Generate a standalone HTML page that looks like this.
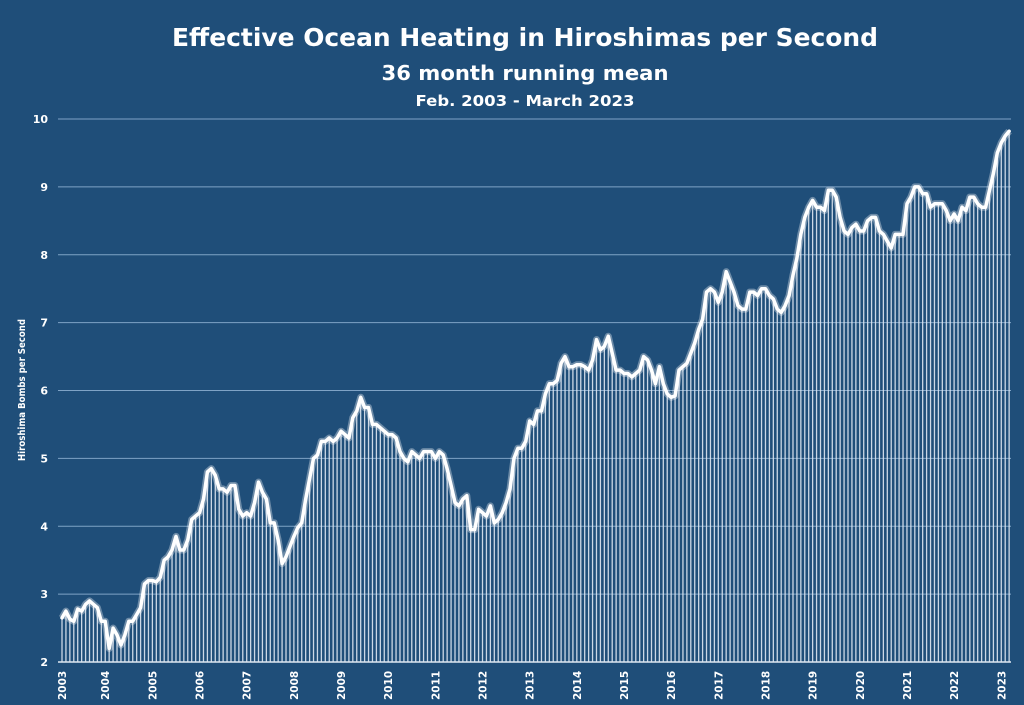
<!DOCTYPE html>
<html><head><meta charset="utf-8"><style>
html,body{margin:0;padding:0;background:#1f4e79;}
svg{display:block;}
text{font-family:"DejaVu Sans","Liberation Sans",sans-serif;fill:#fff;font-weight:bold;}
</style></head><body>
<svg id="chart" width="1024" height="705" viewBox="0 0 1024 705">
<rect width="1024" height="705" fill="#1f4e79"/>
<text x="525" y="46" text-anchor="middle" font-size="25" textLength="706" lengthAdjust="spacingAndGlyphs">Effective Ocean Heating in Hiroshimas per Second</text>
<text x="525" y="80" text-anchor="middle" font-size="20" textLength="287" lengthAdjust="spacingAndGlyphs">36 month running mean</text>
<text x="525" y="106" text-anchor="middle" font-size="15" textLength="219" lengthAdjust="spacingAndGlyphs">Feb. 2003 - March 2023</text>
<text transform="translate(25,390) rotate(-90)" text-anchor="middle" font-size="10" textLength="142" lengthAdjust="spacingAndGlyphs">Hiroshima  Bombs per Second</text>
<g id="grid"></g><g id="bars"></g><g id="line"></g><g id="ticks"></g>
</svg>
<script>
const yTicks=[2,3,4,5,6,7,8,9,10];
const years=[2003,2004,2005,2006,2007,2008,2009,2010,2011,2012,2013,2014,2015,2016,2017,2018,2019,2020,2021,2022,2023];
const v2003=[2.65,2.75,2.63,2.6,2.78,2.75,2.85,2.9,2.85,2.8,2.6];
const v2004=[2.6,2.2,2.5,2.4,2.25,2.4,2.6,2.6,2.7,2.8,3.15,3.2];
const v2005=[3.2,3.18,3.25,3.5,3.55,3.65,3.85,3.65,3.65,3.8,4.1,4.15];
const v2006=[4.2,4.4,4.8,4.85,4.75,4.55,4.55,4.5,4.6,4.6,4.25,4.15];
const v2007=[4.2,4.15,4.35,4.65,4.5,4.4,4.05,4.05,3.8,3.45,3.55,3.7];
const v2008=[3.85,3.98,4.05,4.4,4.7,5.0,5.05,5.25,5.25,5.3,5.25,5.3];
const v2009=[5.4,5.35,5.3,5.6,5.7,5.9,5.75,5.75,5.5,5.5,5.45,5.4];
const v2010=[5.35,5.35,5.3,5.1,5.0,4.95,5.1,5.05,5.0,5.1,5.1,5.1];
const v2011=[5.0,5.1,5.05,4.85,4.6,4.35,4.3,4.4,4.45,3.95,3.95,4.25];
const v2012=[4.2,4.15,4.3,4.05,4.1,4.2,4.35,4.55,5.0,5.15,5.15,5.25];
const v2013=[5.55,5.5,5.7,5.7,5.95,6.1,6.1,6.15,6.4,6.5,6.35,6.35];
const v2014=[6.38,6.38,6.35,6.3,6.45,6.75,6.6,6.65,6.8,6.55,6.3,6.3];
const v2015=[6.25,6.25,6.2,6.25,6.3,6.5,6.45,6.3,6.1,6.35,6.1,5.95];
const v2016=[5.9,5.92,6.3,6.35,6.4,6.55,6.7,6.9,7.05,7.45,7.5,7.45];
const v2017=[7.3,7.45,7.75,7.6,7.45,7.25,7.2,7.2,7.45,7.45,7.4,7.5];
const v2018=[7.5,7.4,7.35,7.2,7.15,7.25,7.4,7.7,7.95,8.3,8.55,8.7];
const v2019=[8.8,8.7,8.7,8.65,8.95,8.95,8.85,8.55,8.35,8.3,8.4,8.45];
const v2020=[8.35,8.35,8.5,8.55,8.55,8.35,8.3,8.2,8.1,8.3,8.3,8.3];
const v2021=[8.75,8.85,9.0,9.0,8.9,8.9,8.7,8.75,8.75,8.75,8.65,8.5];
const v2022=[8.6,8.5,8.7,8.65,8.85,8.85,8.75,8.7,8.7,8.95,9.2,9.5];
const v2023=[9.65,9.75,9.82];
const values=[].concat(v2003,v2004,v2005,v2006,v2007,v2008,v2009,v2010,v2011,v2012,v2013,v2014,v2015,v2016,v2017,v2018,v2019,v2020,v2021,v2022,v2023);
const NS='http://www.w3.org/2000/svg';
const x0=62,dx=3.93,yTop=119,yBot=662,vMin=2,vMax=10;
function yS(v){return yBot-(v-vMin)/(vMax-vMin)*(yBot-yTop);}
function xS(i){return x0+i*dx;}
function mk(tag,attrs,parent){const e=document.createElementNS(NS,tag);for(const k in attrs)e.setAttribute(k,attrs[k]);parent.appendChild(e);return e;}
const grid=document.getElementById('grid'),bars=document.getElementById('bars'),line=document.getElementById('line'),ticks=document.getElementById('ticks');
yTicks.forEach(t=>{
  const l=mk('line',{x1:58,x2:1011,y1:yS(t),y2:yS(t),stroke:'#7fa3c6','stroke-width':1},grid);
  
  
  const tx=mk('text',{x:48,y:yS(t)+4,'text-anchor':'end','font-size':11},ticks);
  tx.textContent=t;
  
  
});
values.forEach((v,i)=>{
  const b=mk('line',{x1:xS(i),x2:xS(i),y1:yS(v),y2:yBot,stroke:'#dfe8f2','stroke-width':1.3,'stroke-opacity':0.9},bars);
  
  
});
const pts=values.map((v,i)=>xS(i).toFixed(1)+','+yS(v).toFixed(1)).join(' ');
const glow=mk('polyline',{points:pts,fill:'none',stroke:'#ffffff','stroke-opacity':0.35,'stroke-width':7,'stroke-linejoin':'round'},line);


const pl=mk('polyline',{points:pts,fill:'none',stroke:'#ffffff','stroke-width':3.5,'stroke-linejoin':'round','stroke-linecap':'round'},line);


const ax=mk('line',{x1:58,x2:1011,y1:yBot,y2:yBot,stroke:'#dfe8f2','stroke-width':1.5},ticks);


years.forEach(y=>{
  const i=(y-2003)*12-1;
  const xx=Math.max(xS(i),x0)+4;
  const t=mk('text',{transform:'translate('+xx+',700) rotate(-90)','font-size':10.5},ticks);
  t.textContent=y;
  
  
});
</script>
</body></html>
